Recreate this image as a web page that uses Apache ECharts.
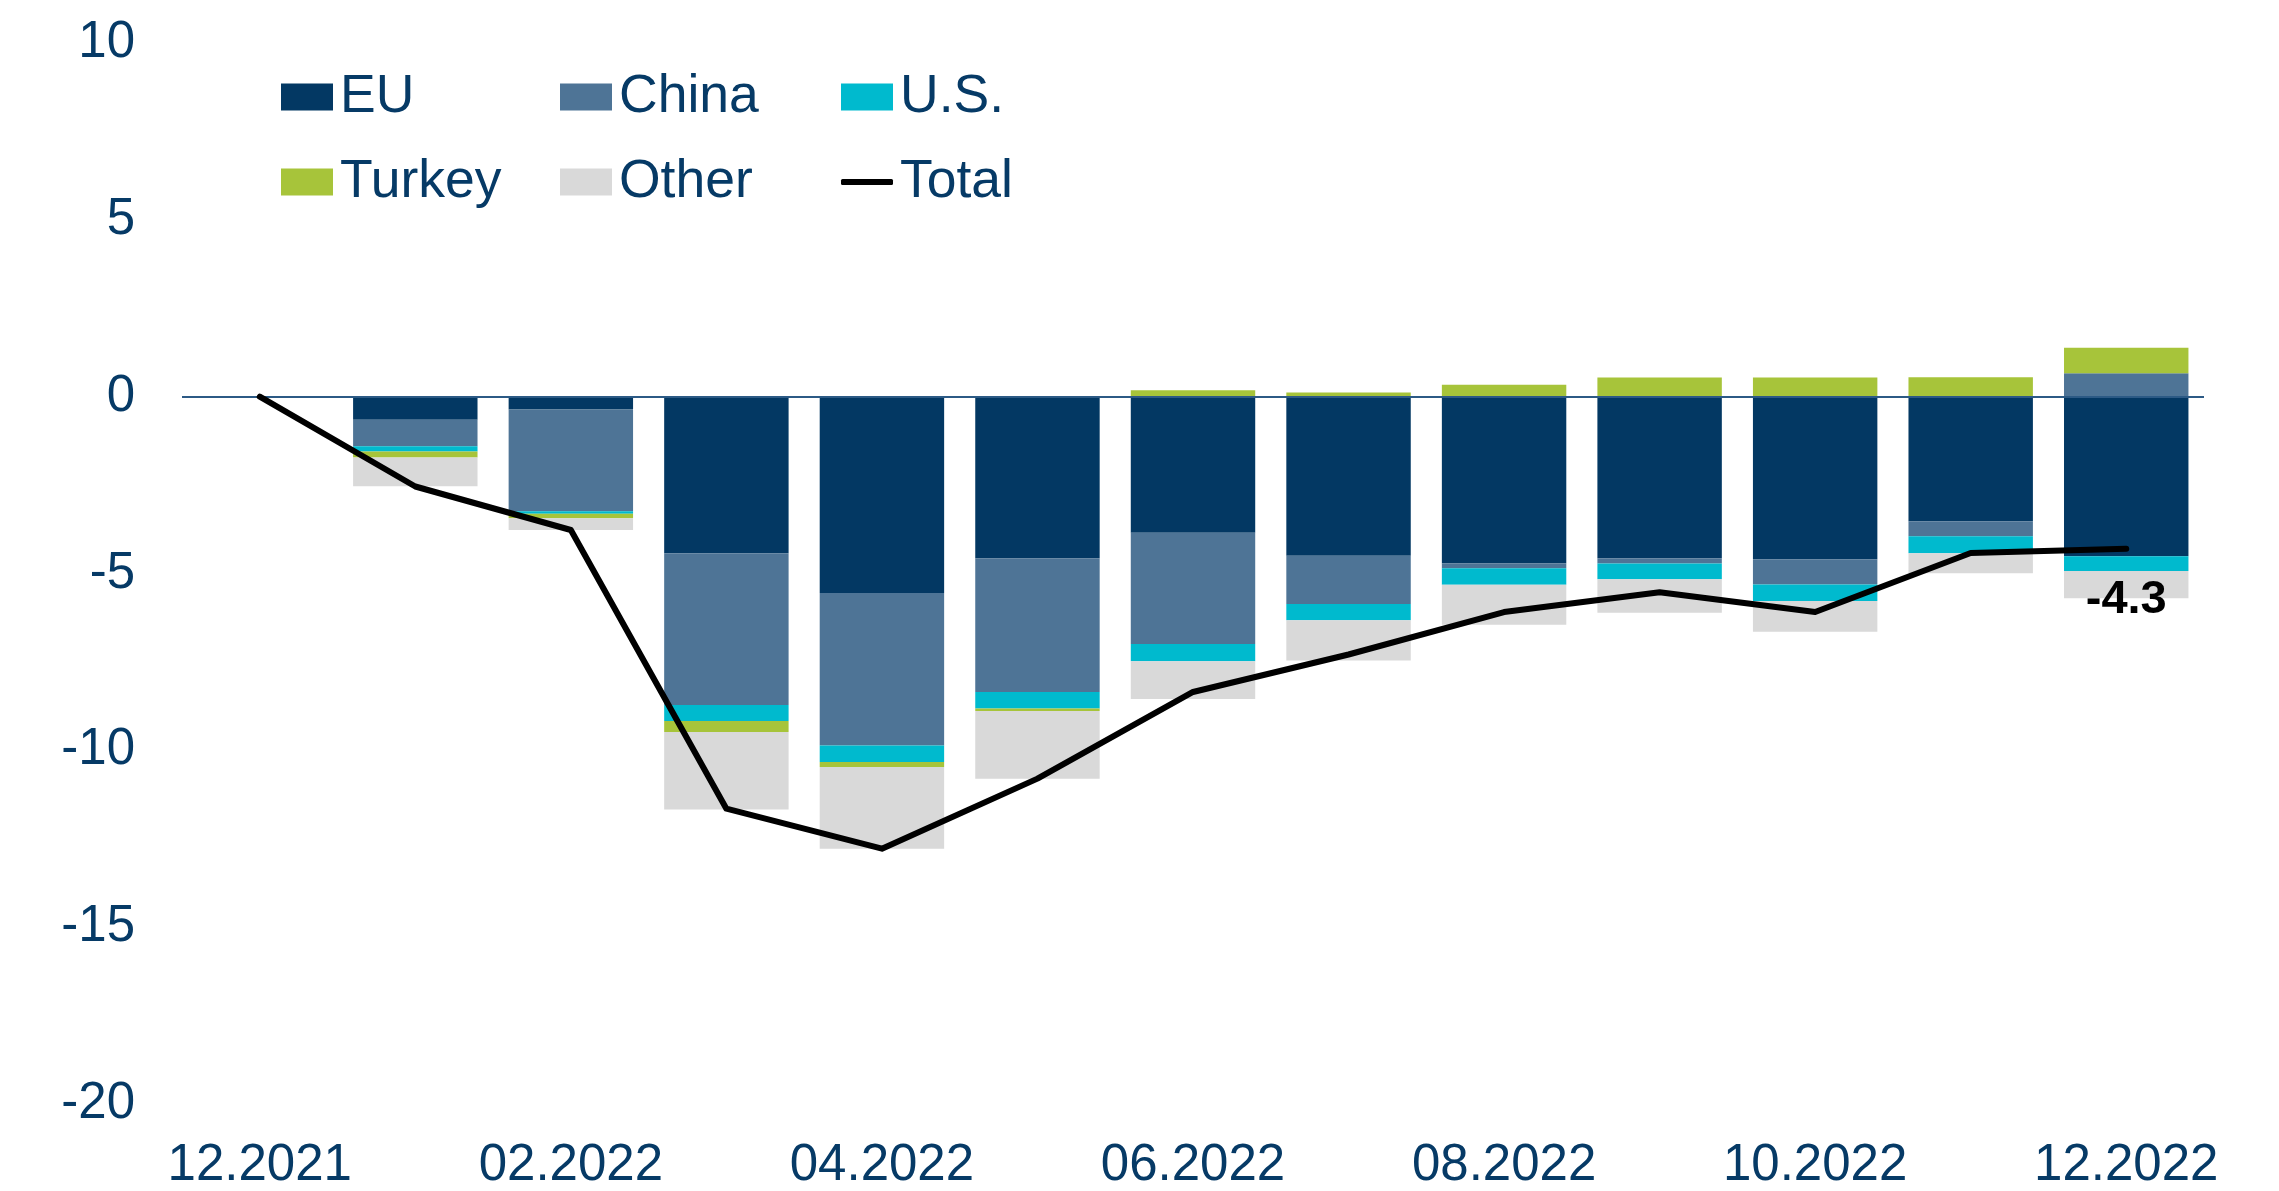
<!DOCTYPE html>
<html>
<head>
<meta charset="utf-8">
<script src="https://cdn.jsdelivr.net/npm/echarts@6/dist/echarts.min.js"></script>
<style>
html,body{margin:0;padding:0;background:#fff;}
#c{width:2279px;height:1191px;}
</style>
</head>
<body>
<div id="c"></div>
<script>
var categories = ['12.2021','01.2022','02.2022','03.2022','04.2022','05.2022','06.2022','07.2022','08.2022','09.2022','10.2022','11.2022','12.2022'];
var eu     = [0,-0.65,-0.36,-4.43,-5.55,-4.57,-3.85,-4.50,-4.71,-4.57,-4.60,-3.52,-4.51];
var china  = [0,-0.75,-2.88,-4.29,-4.31,-3.78,-3.14,-1.36,-0.14,-0.15,-0.71,-0.43,0.66];
var us     = [0,-0.15,-0.07,-0.45,-0.47,-0.47,-0.49,-0.46,-0.47,-0.44,-0.47,-0.48,-0.42];
var turkey = [0,-0.17,-0.13,-0.31,-0.14,-0.07,0.18,0.12,0.34,0.54,0.54,0.55,0.72];
var other  = [0,-0.81,-0.33,-2.19,-2.31,-1.91,-1.07,-1.14,-1.13,-0.95,-0.87,-0.56,-0.77];
var total  = [0,-2.54,-3.77,-11.65,-12.78,-10.80,-8.35,-7.29,-6.09,-5.53,-6.09,-4.42,-4.3];
var yTicks = {min:-20, max:10, interval:5};

var FONT = 'Arial, "Liberation Sans", sans-serif';
var TXT = '#063a66';
var COLORS = {EU:'#033863', China:'#4e7496', 'U.S.':'#00bace', Turkey:'#a7c43a', Other:'#d9d9d9', Total:'#000000'};

function bar(name, data) {
  return {
    name: name, type: 'bar', stack: 'a', data: data, barWidth: '80%',
    itemStyle: {color: COLORS[name]}, z: 2
  };
}

var series = [
  bar('EU', eu), bar('China', china), bar('U.S.', us), bar('Turkey', turkey), bar('Other', other),
  {
    name: 'Total', type: 'line',
    data: total.map(function (v, i) {
      if (i === total.length - 1) {
        return {value: v, label: {show: true, position: 'bottom', distance: 27,
          formatter: function (p) { return Number(p.value).toFixed(1); },
          fontSize: 47, fontWeight: 'bold', color: '#000', fontFamily: FONT}};
      }
      return v;
    }),
    symbol: 'circle', symbolSize: 1, showSymbol: true, showAllSymbol: true,
    label: {show: false},
    lineStyle: {color: '#000', width: 6, cap: 'round', join: 'round'},
    itemStyle: {color: '#000'}, z: 5
  }
];
// zero line
series[0].markLine = {
  silent: true, symbol: 'none', label: {show: false},
  lineStyle: {color: '#2c5a85', width: 2, type: 'solid'},
  data: [{yAxis: 0}]
};

function lg(name, left, top, opts) {
  var o = {
    data: [name], left: left, top: top, padding: 0, itemWidth: 52, itemHeight: 27, icon: 'rect',
    textStyle: {fontSize: 53.5, color: TXT, fontFamily: FONT, lineHeight: 60, padding: [0,0,0,2]},
    selectedMode: false
  };
  if (opts) for (var k in opts) o[k] = opts[k];
  return o;
}

var option = {
  animation: false,
  color: [COLORS.EU, COLORS.China, COLORS['U.S.'], COLORS.Turkey, COLORS.Other, '#000'],
  grid: {left: 182, right: 75, top: 43, bottom: 87, containLabel: false},
  legend: [
    lg('EU', 281, 67), lg('China', 560, 67), lg('U.S.', 841, 67),
    lg('Turkey', 281, 152), lg('Other', 560, 152),
    lg('Total', 841, 152, {itemHeight: 6, icon: 'roundRect'})
  ],
  xAxis: {
    type: 'category', data: categories,
    axisLine: {show: false}, axisTick: {show: false},
    axisLabel: {interval: 1, fontSize: 51, color: TXT, fontFamily: FONT, margin: 36}
  },
  yAxis: {
    type: 'value', min: yTicks.min, max: yTicks.max, interval: yTicks.interval,
    axisLine: {show: false}, axisTick: {show: false}, splitLine: {show: false},
    axisLabel: {fontSize: 51, color: TXT, fontFamily: FONT, margin: 47}
  },
  series: series
};
echarts.init(document.getElementById('c')).setOption(option);
</script>
</body>
</html>
